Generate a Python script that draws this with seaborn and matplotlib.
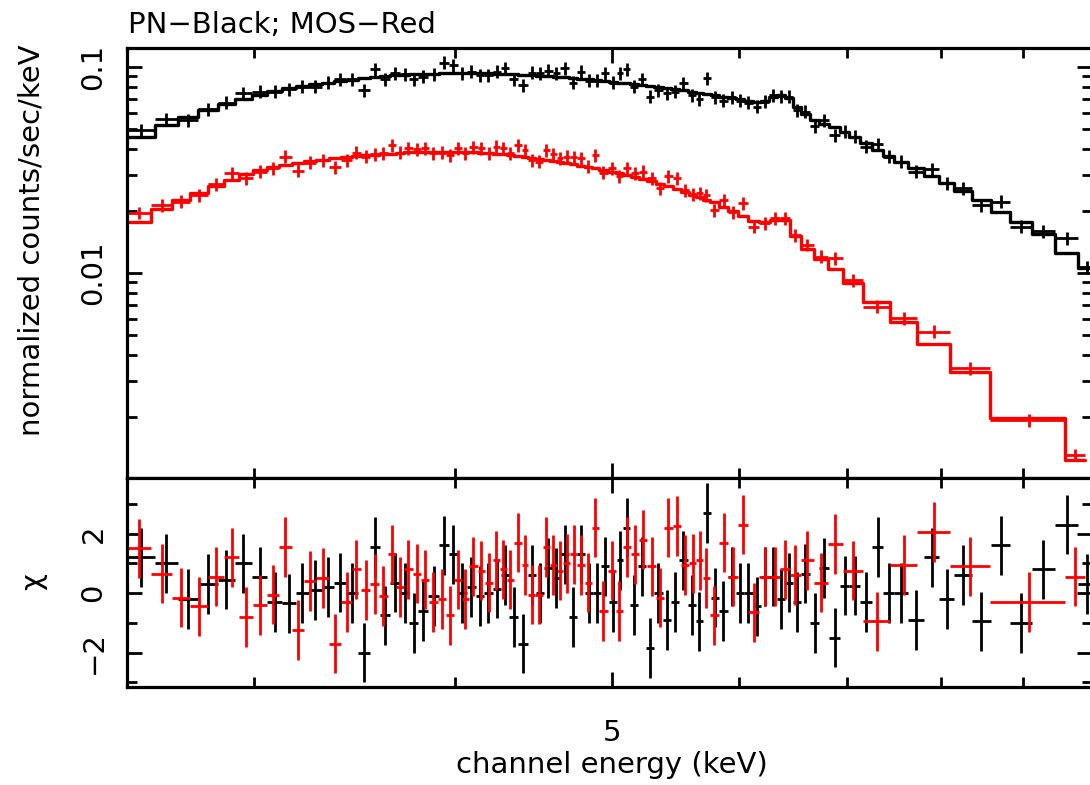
import numpy as np
import pandas as pd
import matplotlib
matplotlib.use("Agg")
import matplotlib.pyplot as plt
from matplotlib.ticker import FixedLocator, FixedFormatter, NullFormatter, LogLocator
import seaborn as sns

sns.set_style("ticks")
plt.rcParams["font.family"] = ["DejaVu Sans"]
plt.rcParams["font.size"] = 21
plt.rcParams["ytick.alignment"] = "center"
for key in ["text.color", "axes.labelcolor", "axes.edgecolor", "xtick.color", "ytick.color"]:
    plt.rcParams[key] = "black"

# PN spectrum (black): channel bin edges (keV), data, model (counts/sec/keV), residuals (chi)
pn_edges = [2.502, 2.604, 2.690, 2.771, 2.848, 2.920, 2.990, 3.058, 3.121, 3.183,
            3.245, 3.305, 3.364, 3.420, 3.482, 3.541, 3.592, 3.643, 3.695, 3.745,
            3.793, 3.848, 3.908, 3.965, 4.012, 4.065, 4.118, 4.168, 4.218, 4.268,
            4.319, 4.376, 4.434, 4.487, 4.541, 4.595, 4.646, 4.703, 4.759, 4.810,
            4.865, 4.924, 4.983, 5.037, 5.084, 5.133, 5.189, 5.250, 5.314, 5.377,
            5.441, 5.507, 5.572, 5.636, 5.697, 5.761, 5.830, 5.900, 5.970, 6.042,
            6.115, 6.187, 6.262, 6.332, 6.401, 6.474, 6.551, 6.638, 6.724, 6.821,
            6.929, 7.018, 7.129, 7.256, 7.368, 7.484, 7.639, 7.814, 7.983, 8.156,
            8.363, 8.594, 8.833, 9.109, 9.419, 9.734, 9.974]
pn_data = [0.0495, 0.0557, 0.0553, 0.0623, 0.0671, 0.0745, 0.0759, 0.0759, 0.0779, 0.0802,
           0.0802, 0.0839, 0.0872, 0.0872, 0.0773, 0.0975, 0.0872, 0.0932, 0.0925, 0.0872,
           0.0897, 0.0925, 0.1049, 0.1023, 0.0932, 0.0949, 0.0915, 0.0915, 0.0949, 0.0986,
           0.0872, 0.0818, 0.0938, 0.0932, 0.0959, 0.0932, 0.0986, 0.0839, 0.0949, 0.0858,
           0.0858, 0.0932, 0.0839, 0.0932, 0.0975, 0.0802, 0.0872, 0.0718, 0.0773, 0.0745,
           0.0759, 0.0833, 0.0731, 0.0697, 0.0881, 0.0713, 0.0686, 0.0713, 0.0686, 0.0671,
           0.0642, 0.0679, 0.0731, 0.0723, 0.0718, 0.0618, 0.0607, 0.0517, 0.0553, 0.0468,
           0.0485, 0.0459, 0.0410, 0.0423, 0.0367, 0.0347, 0.0310, 0.0319, 0.0273, 0.0258,
           0.0214, 0.0222, 0.0168, 0.0159, 0.0147, 0.0107]
pn_model = [0.0455, 0.0520, 0.0572, 0.0615, 0.0658, 0.0695, 0.0731, 0.0765, 0.0791, 0.0809,
            0.0822, 0.0836, 0.0850, 0.0865, 0.0879, 0.0889, 0.0899, 0.0909, 0.0915, 0.0920,
            0.0925, 0.0928, 0.0930, 0.0932, 0.0933, 0.0933, 0.0932, 0.0930, 0.0928, 0.0925,
            0.0922, 0.0918, 0.0913, 0.0907, 0.0902, 0.0896, 0.0890, 0.0884, 0.0878, 0.0871,
            0.0863, 0.0855, 0.0848, 0.0840, 0.0832, 0.0823, 0.0815, 0.0806, 0.0797, 0.0788,
            0.0779, 0.0769, 0.0759, 0.0749, 0.0739, 0.0728, 0.0718, 0.0707, 0.0696, 0.0684,
            0.0673, 0.0684, 0.0711, 0.0727, 0.0703, 0.0636, 0.0588, 0.0553, 0.0529, 0.0509,
            0.0481, 0.0457, 0.0425, 0.0395, 0.0370, 0.0346, 0.0322, 0.0294, 0.0272, 0.0249,
            0.0226, 0.0198, 0.0177, 0.0155, 0.0125, 0.0106]
pn_chi = [1.2, 1.0, -0.2, 0.3, 0.45, 1.0, 0.55, -0.3, -0.35, 0.0,
          0.1, 0.2, 0.35, 0.0, -2.0, 1.55, -0.75, 0.35, 0.0, -1.0,
          -0.6, -0.1, 1.6, 1.3, 0.0, 0.2, -0.1, 0.0, 0.15, 0.6,
          -0.8, -1.7, 0.6, 0.0, 0.85, 0.5, 1.3, -0.8, 1.3, 0.0,
          0.0, 0.9, -0.3, 1.1, 2.2, -0.4, 0.9, -1.85, 0.0, -0.9,
          -0.3, 1.1, -0.4, -0.95, 2.7, -0.15, -0.6, 0.55, 0.0, 0.0,
          -0.45, 0.55, 0.55, -0.2, 0.35, -0.3, 0.65, -1.0, 0.85, -1.5,
          0.25, 0.25, -0.3, 1.55, 0.0, 0.0, -0.9, 1.2, -0.2, 0.6,
          -0.95, 1.6, -1.0, 0.8, 2.3, 0.3]

# MOS spectrum (red)
mos_edges = [2.502, 2.590, 2.668, 2.738, 2.807, 2.874, 2.936, 2.996, 3.056, 3.109,
             3.165, 3.222, 3.278, 3.339, 3.399, 3.449, 3.495, 3.541, 3.586, 3.630,
             3.674, 3.717, 3.762, 3.808, 3.852, 3.899, 3.947, 3.992, 4.036, 4.078,
             4.128, 4.173, 4.218, 4.263, 4.304, 4.349, 4.397, 4.439, 4.482, 4.530,
             4.579, 4.623, 4.667, 4.712, 4.759, 4.810, 4.860, 4.911, 4.971, 5.028,
             5.082, 5.140, 5.199, 5.259, 5.327, 5.388, 5.454, 5.521, 5.584, 5.643,
             5.694, 5.752, 5.826, 5.907, 5.989, 6.078, 6.171, 6.269, 6.355, 6.446,
             6.551, 6.676, 6.814, 6.953, 7.160, 7.442, 7.739, 8.108, 8.584, 9.554,
             9.832]
mos_data = [0.0196, 0.0214, 0.0222, 0.0239, 0.0270, 0.0305, 0.0288, 0.0310, 0.0322, 0.0367,
            0.0314, 0.0343, 0.0354, 0.0326, 0.0354, 0.0384, 0.0367, 0.0378, 0.0381, 0.0418,
            0.0384, 0.0403, 0.0399, 0.0403, 0.0381, 0.0384, 0.0374, 0.0403, 0.0382, 0.0407,
            0.0403, 0.0381, 0.0410, 0.0403, 0.0381, 0.0418, 0.0395, 0.0354, 0.0347, 0.0395,
            0.0378, 0.0360, 0.0367, 0.0364, 0.0360, 0.0328, 0.0374, 0.0307, 0.0322, 0.0294,
            0.0322, 0.0305, 0.0310, 0.0288, 0.0258, 0.0294, 0.0288, 0.0253, 0.0242, 0.0244,
            0.0239, 0.0202, 0.0226, 0.0198, 0.0218, 0.0168, 0.0174, 0.0184, 0.0184, 0.0153,
            0.0137, 0.0120, 0.0118, 0.00925, 0.00686, 0.00603, 0.00519, 0.00345, 0.00193, 0.00131]
mos_model = [0.0177, 0.0204, 0.0226, 0.0245, 0.0263, 0.0283, 0.0302, 0.0316, 0.0327, 0.0334,
             0.0342, 0.0348, 0.0354, 0.0360, 0.0364, 0.0368, 0.0372, 0.0374, 0.0378, 0.0380,
             0.0382, 0.0385, 0.0386, 0.0387, 0.0388, 0.0388, 0.0388, 0.0388, 0.0387, 0.0386,
             0.0383, 0.0381, 0.0378, 0.0376, 0.0373, 0.0369, 0.0366, 0.0362, 0.0358, 0.0354,
             0.0350, 0.0346, 0.0342, 0.0337, 0.0332, 0.0327, 0.0322, 0.0316, 0.0310, 0.0305,
             0.0299, 0.0292, 0.0286, 0.0278, 0.0270, 0.0263, 0.0256, 0.0247, 0.0239, 0.0234,
             0.0227, 0.0220, 0.0209, 0.0200, 0.0189, 0.0179, 0.0177, 0.0181, 0.0181, 0.0151,
             0.0131, 0.0117, 0.0105, 0.00894, 0.00723, 0.00578, 0.00452, 0.00331, 0.00198, 0.00124]
mos_chi = [1.5, 0.65, -0.15, -0.45, 0.55, 1.2, -0.8, -0.4, -0.05, 1.55,
           -1.25, 0.4, 0.5, -1.7, -0.3, 0.8, 0.1, 0.3, -0.1, 1.3,
           0.2, 0.8, 0.65, 0.45, -0.3, -0.2, -0.75, 0.45, -0.2, 0.9,
           0.75, 0.35, 1.1, 0.8, 0.45, 1.7, 0.95, -0.05, -0.05, 1.55,
           0.95, 0.75, 1.0, 1.3, 0.95, 0.35, 2.2, -0.6, 0.75, -0.6,
           1.55, 1.3, 1.8, 0.9, -0.15, 2.2, 2.25, 0.95, 1.0, 1.1,
           0.5, -0.75, 1.7, 0.55, 2.3, -0.65, 0.55, 0.55, 0.8, 0.6,
           1.1, 0.35, 1.65, 0.75, -0.95, 0.95, 2.05, 0.9, -0.3, 0.55]

# half-height of the data crosses in the upper panel, as a fraction of the value
pn_err_frac = 0.072
mos_err_frac = 0.072

LW = 2.0

fig = plt.figure(figsize=(10.9, 7.85), dpi=100)
left = 127 / 1090
width = (1092 - 127) / 1090
ax1 = fig.add_axes([left, 1 - 478 / 785, width, (478 - 48) / 785])
ax2 = fig.add_axes([left, 1 - 687 / 785, width, (687 - 478) / 785], sharex=ax1)
ax1.set_xscale("log")
ax1.set_yscale("log")

for edges, data, model, chi, frac, col in [
        (pn_edges, pn_data, pn_model, pn_chi, pn_err_frac, "black"),
        (mos_edges, mos_data, mos_model, mos_chi, mos_err_frac, "red")]:
    lo = np.array(edges[:-1])
    hi = np.array(edges[1:])
    mid = 0.5 * (lo + hi)
    xe = [mid - lo, hi - mid]
    d = np.array(data)
    ax1.errorbar(mid, d, xerr=xe, yerr=d * frac, fmt="none", ecolor=col,
                 elinewidth=LW, capsize=0)
    steps = pd.DataFrame({"E": edges, "f": list(model) + [model[-1]]})
    sns.lineplot(data=steps, x="E", y="f", drawstyle="steps-post", color=col,
                 lw=2.4, ax=ax1, errorbar=None, legend=False)
    ax2.errorbar(mid, chi, xerr=xe, yerr=1.0, fmt="none", ecolor=col,
                 elinewidth=LW, capsize=0)

ax1.set_xlim(2.502, 9.93)
ax1.set_ylim(0.00101, 0.1236)
ax2.set_ylim(-3.16, 3.87)

for ax in (ax1, ax2):
    for s in ax.spines.values():
        s.set_linewidth(2.3)
        s.set_color("black")
    ax.tick_params(which="both", direction="in", top=True, right=True, width=2.0,
                   color="black", labelcolor="black", labelsize=21)
    ax.tick_params(which="major", length=11)
    ax.tick_params(which="minor", length=7)
    ax.tick_params(axis="y", labelrotation=90, pad=14)
    ax.set_xlabel("")
    ax.set_ylabel("")

ax1.xaxis.set_major_locator(FixedLocator([5]))
ax1.xaxis.set_major_formatter(FixedFormatter(["5"]))
ax1.xaxis.set_minor_locator(FixedLocator([3, 4, 6, 7, 8, 9]))
ax1.xaxis.set_minor_formatter(NullFormatter())
ax1.tick_params(axis="x", labelbottom=False)
ax2.tick_params(axis="x", labelbottom=True, pad=23)

ax1.yaxis.set_major_locator(FixedLocator([0.01, 0.1]))
ax1.yaxis.set_major_formatter(FixedFormatter(["0.01", "0.1"]))
ax1.yaxis.set_minor_locator(LogLocator(base=10, subs=np.arange(2, 10)))
ax1.yaxis.set_minor_formatter(NullFormatter())

ax2.yaxis.set_major_locator(FixedLocator([-2, 0, 2]))
ax2.yaxis.set_minor_locator(FixedLocator([-3, -1, 1, 3]))

fig.text(128 / 1090, 1 - 33 / 785, "PN\u2212Black; MOS\u2212Red", ha="left", va="baseline", fontsize=21)
fig.text(612 / 1090, 1 - 773 / 785, "channel energy (keV)", ha="center", va="baseline", fontsize=21)
fig.text(32 / 1090, 1 - 240 / 785, "normalized counts/sec/keV", rotation=90,
         ha="center", va="center", fontsize=21)
fig.text(33 / 1090, 1 - 582 / 785, "\u03c7", rotation=90, ha="center", va="center", fontsize=21)

fig.savefig("out.png", dpi=100)
